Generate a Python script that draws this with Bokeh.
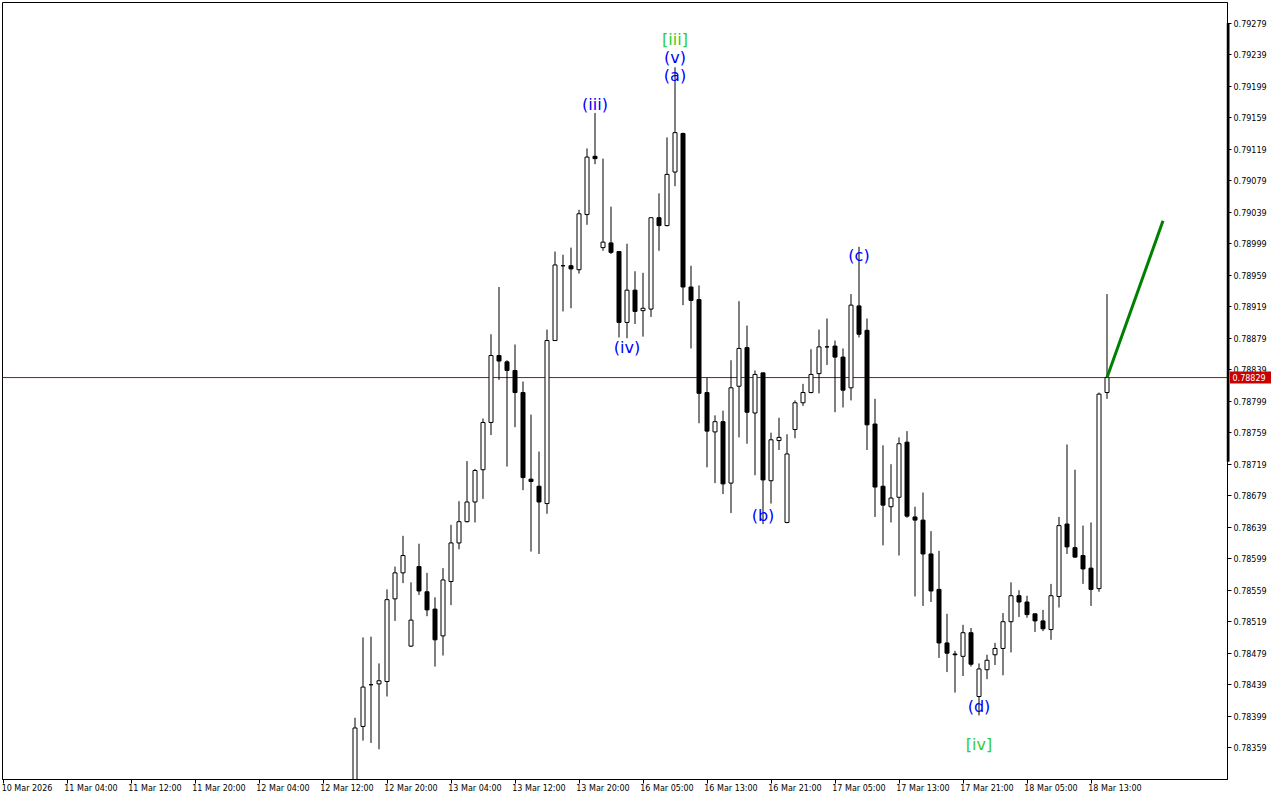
from bokeh.plotting import figure
from bokeh.layouts import row
from bokeh.models import (Range1d, LinearAxis, FixedTicker, PrintfTickFormatter,
                          Span, ColumnDataSource)
from bokeh.core.properties import value
from bokeh.embed import file_html
from bokeh.resources import INLINE

# ---------------- data (H1 candles, 12 Mar 16:00 -> 18 Mar 15:00) ----------------
opens = [0.78292, 0.78386, 0.78439, 0.78440, 0.78443, 0.78548, 0.78581, 0.78488, 0.78589, 0.78557,
         0.78535, 0.78501, 0.78570, 0.78619, 0.78646, 0.78671, 0.78712, 0.78772, 0.78857, 0.78849,
         0.78838, 0.78810, 0.78700, 0.78691, 0.78669, 0.78876, 0.78971, 0.78971, 0.78966, 0.79036,
         0.79110, 0.78994, 0.79000, 0.78989, 0.78899, 0.78940, 0.78914, 0.78916, 0.79032, 0.79022,
         0.79090, 0.79139, 0.78944, 0.78928, 0.78810, 0.78760, 0.78773, 0.78695, 0.78818, 0.78867,
         0.78784, 0.78835, 0.78698, 0.78749, 0.78645, 0.78763, 0.78797, 0.78810, 0.78834, 0.78868,
         0.78869, 0.78855, 0.78816, 0.78920, 0.78889, 0.78770, 0.78691, 0.78665, 0.78677, 0.78747,
         0.78652, 0.78648, 0.78605, 0.78560, 0.78492, 0.78478, 0.78475, 0.78505, 0.78424, 0.78458,
         0.78477, 0.78485, 0.78519, 0.78552, 0.78544, 0.78529, 0.78520, 0.78509, 0.78551, 0.78643,
         0.78613, 0.78603, 0.78587, 0.78561, 0.78810]
highs = [0.78397, 0.78499, 0.78500, 0.78466, 0.78560, 0.78589, 0.78628, 0.78569, 0.78618, 0.78581,
         0.78550, 0.78587, 0.78642, 0.78672, 0.78723, 0.78713, 0.78777, 0.78884, 0.78944, 0.78851,
         0.78871, 0.78824, 0.78782, 0.78735, 0.78890, 0.78989, 0.78985, 0.78994, 0.79042, 0.79120,
         0.79165, 0.79107, 0.79046, 0.78989, 0.78999, 0.78964, 0.78962, 0.79032, 0.79063, 0.79134,
         0.79223, 0.79140, 0.78971, 0.78946, 0.78829, 0.78781, 0.78787, 0.78851, 0.78926, 0.78895,
         0.78838, 0.78835, 0.78759, 0.78778, 0.78757, 0.78800, 0.78821, 0.78865, 0.78890, 0.78904,
         0.78876, 0.78866, 0.78935, 0.78995, 0.78904, 0.78802, 0.78743, 0.78719, 0.78753, 0.78761,
         0.78665, 0.78683, 0.78634, 0.78609, 0.78529, 0.78482, 0.78515, 0.78511, 0.78466, 0.78477,
         0.78492, 0.78530, 0.78569, 0.78559, 0.78552, 0.78529, 0.78534, 0.78567, 0.78652, 0.78744,
         0.78712, 0.78641, 0.78645, 0.78810, 0.78935]
lows = [0.78280, 0.78368, 0.78365, 0.78357, 0.78424, 0.78520, 0.78568, 0.78487, 0.78553, 0.78526,
        0.78462, 0.78476, 0.78540, 0.78611, 0.78645, 0.78645, 0.78675, 0.78756, 0.78826, 0.78716,
        0.78766, 0.78686, 0.78608, 0.78605, 0.78656, 0.78882, 0.78913, 0.78917, 0.78961, 0.79023,
        0.79100, 0.78990, 0.78986, 0.78880, 0.78879, 0.78897, 0.78881, 0.78906, 0.78990, 0.79021,
        0.79072, 0.78921, 0.78866, 0.78771, 0.78715, 0.78695, 0.78681, 0.78657, 0.78753, 0.78745,
        0.78705, 0.78643, 0.78669, 0.78737, 0.78644, 0.78752, 0.78793, 0.78809, 0.78809, 0.78845,
        0.78785, 0.78791, 0.78800, 0.78880, 0.78737, 0.78652, 0.78616, 0.78645, 0.78603, 0.78651,
        0.78551, 0.78539, 0.78544, 0.78473, 0.78455, 0.78429, 0.78450, 0.78462, 0.78400, 0.78446,
        0.78464, 0.78451, 0.78480, 0.78525, 0.78524, 0.78506, 0.78507, 0.78496, 0.78537, 0.78605,
        0.78600, 0.78567, 0.78539, 0.78557, 0.78802]
closes = [0.78384, 0.78436, 0.78439, 0.78444, 0.78547, 0.78581, 0.78603, 0.78521, 0.78558, 0.78534,
          0.78496, 0.78572, 0.78619, 0.78646, 0.78671, 0.78711, 0.78772, 0.78857, 0.78850, 0.78838,
          0.78810, 0.78702, 0.78697, 0.78671, 0.78876, 0.78972, 0.78971, 0.78967, 0.79037, 0.79109,
          0.79107, 0.79001, 0.78988, 0.78899, 0.78940, 0.78913, 0.78917, 0.79032, 0.79022, 0.79087,
          0.79140, 0.78944, 0.78927, 0.78809, 0.78761, 0.78773, 0.78694, 0.78816, 0.78866, 0.78785,
          0.78833, 0.78699, 0.78750, 0.78753, 0.78732, 0.78797, 0.78810, 0.78833, 0.78868, 0.78868,
          0.78855, 0.78813, 0.78921, 0.78884, 0.78769, 0.78690, 0.78667, 0.78676, 0.78745, 0.78653,
          0.78648, 0.78605, 0.78558, 0.78492, 0.78479, 0.78477, 0.78505, 0.78465, 0.78459, 0.78470,
          0.78485, 0.78519, 0.78552, 0.78544, 0.78528, 0.78520, 0.78510, 0.78552, 0.78641, 0.78614,
          0.78601, 0.78586, 0.78560, 0.78808, 0.78829]

# time axis: bar index of each tick and its label
time_tick_index = [-44, -36, -28, -20, -12, -4, 4, 12, 20, 28, 36, 44, 52, 60, 68, 76, 84, 92]
time_tick_labels = ["10 Mar 2026", "11 Mar 04:00", "11 Mar 12:00", "11 Mar 20:00", "12 Mar 04:00",
                    "12 Mar 12:00", "12 Mar 20:00", "13 Mar 04:00", "13 Mar 12:00", "13 Mar 20:00",
                    "16 Mar 05:00", "16 Mar 13:00", "16 Mar 21:00", "17 Mar 05:00", "17 Mar 13:00",
                    "17 Mar 21:00", "18 Mar 05:00", "18 Mar 13:00"]

price_ticks = [0.79279, 0.79239, 0.79199, 0.79159, 0.79119, 0.79079, 0.79039, 0.78999, 0.78959,
               0.78919, 0.78879, 0.78839, 0.78799, 0.78759, 0.78719, 0.78679, 0.78639, 0.78599,
               0.78559, 0.78519, 0.78479, 0.78439, 0.78399, 0.78359]

current_price = 0.78829
price_bar_top = 0.79279
price_bar_bottom = 0.78722

projection_index = [94, 101]
projection_price = [0.78829, 0.79028]

wave_text = ["[iii]", "(v)", "(a)", "(iii)", "(iv)", "(b)", "(c)", "(d)", "[iv]"]
wave_index = [40, 40, 40, 30, 34, 51, 63, 78, 78]
wave_price = [0.79258, 0.79235, 0.79213, 0.79176, 0.78867, 0.78654, 0.78984, 0.78411, 0.78363]
wave_degree = ["primary", "minor", "minor", "minor", "minor", "minor", "minor", "minor", "primary"]

# ---------------- styling ----------------
BULL_FILL = "white"
BEAR_FILL = "black"
DEGREE_COLOR = {"primary": "#32cd32", "minor": "#0000ff"}
AXIS_FONT = "DejaVu Sans"
FRAME_W, FRAME_H = 1225, 777
BAR_PX = 8.0

idx = list(range(len(opens)))
src = ColumnDataSource(dict(
    x=idx,
    high=highs,
    low=lows,
    top=[max(o, c) for o, c in zip(opens, closes)],
    bottom=[min(o, c) for o, c in zip(opens, closes)],
    fill=[BULL_FILL if c >= o else BEAR_FILL for o, c in zip(opens, closes)],
))

x0 = -44.0625
p = figure(
    x_range=Range1d(x0, x0 + FRAME_W / BAR_PX),
    y_range=Range1d(0.783186, 0.793053),
    frame_width=FRAME_W, frame_height=FRAME_H,
    x_axis_location=None, y_axis_location=None,
    min_border_left=2, min_border_top=2, min_border_right=45, min_border_bottom=0,
    output_backend="svg", toolbar_location=None, tools="",
    background_fill_color="white", border_fill_color="white",
)
p.outline_line_color = "black"
p.outline_line_width = 1
p.grid.visible = False

# current price line (behind candles)
p.add_layout(Span(location=current_price, dimension="width", line_color="#c00000",
                  line_width=1, level="underlay"))

# candles
p.segment(x0="x", y0="low", x1="x", y1="high", source=src, line_color="black", line_width=1)
p.vbar(x="x", width=0.5, top="top", bottom="bottom", source=src,
       fill_color="fill", line_color="black", line_width=1)

# projection line
p.line(projection_index, projection_price, line_color="#008000", line_width=3)

# wave labels
wsrc = ColumnDataSource(dict(x=wave_index, y=wave_price, t=wave_text,
                             c=[DEGREE_COLOR[d] for d in wave_degree]))
p.text(x="x", y="y", text="t", source=wsrc, text_color="c", text_align="center",
       text_baseline="middle", text_font=value("DejaVu Sans"), text_font_size="16px")

# right price axis
yaxis = LinearAxis(ticker=FixedTicker(ticks=price_ticks, minor_ticks=[]),
                   formatter=PrintfTickFormatter(format="%.5f"),
                   major_tick_out=4, major_tick_in=0, minor_tick_out=0, minor_tick_in=0,
                   major_label_standoff=2, axis_line_color="black", major_tick_line_color="black",
                   major_label_text_font=AXIS_FONT, major_label_text_font_size="8px",
                   major_label_text_color="black")
p.add_layout(yaxis, "right")

# bottom time axis: tick marks
xtick_axis = LinearAxis(ticker=FixedTicker(ticks=time_tick_index, minor_ticks=[]),
                        major_label_overrides={t: "" for t in time_tick_index},
                        major_tick_out=4, major_tick_in=0, minor_tick_out=0, minor_tick_in=0,
                        major_label_standoff=0, major_label_text_font_size="0px",
                        axis_line_color="black", major_tick_line_color="black")
p.add_layout(xtick_axis, "below")

# bottom time axis: labels, left aligned to the tick marks
LABEL_SHIFT = 3.0
label_pos = [t + LABEL_SHIFT for t in time_tick_index]
xlabel_axis = LinearAxis(ticker=FixedTicker(ticks=label_pos, minor_ticks=[]),
                         major_label_overrides={lp: lab for lp, lab in zip(label_pos, time_tick_labels)},
                         major_tick_out=0, major_tick_in=0, minor_tick_out=0, minor_tick_in=0,
                         major_label_standoff=0, axis_line_color=None, major_tick_line_color=None,
                         major_label_text_font=AXIS_FONT, major_label_text_font_size="8px",
                         major_label_text_color="black")
p.add_layout(xlabel_axis, "below")

# ---------------- transparent overlay on the price scale (price tag + scale marker) ----------------
OV_W = 46
ov = figure(
    x_range=Range1d(0, OV_W), y_range=p.y_range,
    frame_width=OV_W, frame_height=FRAME_H,
    x_axis_location=None, y_axis_location=None,
    min_border_left=0, min_border_right=0, min_border_top=2, min_border_bottom=0,
    output_backend="svg", toolbar_location=None, tools="",
    background_fill_alpha=0, border_fill_alpha=0,
)
ov.outline_line_color = None
ov.grid.visible = False
ov.margin = (0, 0, 0, -OV_W)

# thick marker on the scale line
ov.quad(left=[0], right=[3], bottom=[price_bar_bottom], top=[price_bar_top],
        fill_color="black", line_color=None)
# current price tag
ov.rect(x=[24], y=[current_price], width=41, height=12, height_units="screen",
        fill_color="#c80000", line_color=None)
ov.text(x=[6], y=[current_price], text=[f"{current_price:.5f}"], text_color="white",
        text_align="left", text_baseline="middle", text_font=value(AXIS_FONT),
        text_font_size="8px")

layout = row(p, ov)
open("out.html", "w").write(file_html(layout, INLINE))
